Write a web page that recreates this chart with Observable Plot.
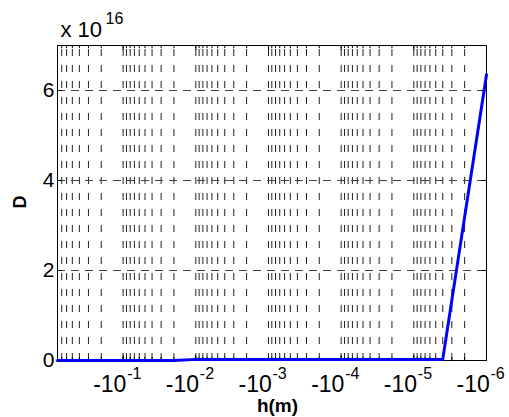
<!DOCTYPE html>
<html><head><meta charset="utf-8">
<script src="https://cdn.jsdelivr.net/npm/d3@7"></script>
<script src="https://cdn.jsdelivr.net/npm/@observablehq/plot@0.6"></script>
<style>
body{margin:0;background:#fff;}
svg{display:block;font-family:"Liberation Sans",Arial,sans-serif;}
</style>
</head><body><div id="chart"></div>
<script>
// ---- data ----
const hValues = [-0.8, -0.1, -0.02, -0.01, -1e-3, -1e-4, -1e-5, -4e-6, -1e-6];
const dValues = [0, 0, 0, 2.5e14, 2.5e14, 2.5e14, 2.5e14, 2.5e14, 6.35e16];
const xTickExponents = [-1, -2, -3, -4, -5, -6];
const yTickValues = [0, 2e16, 4e16, 6e16];
const yTickLabels = ["0", "2", "4", "6"];
const xDomain = [-0.8, -1e-6];
const yDomain = [0, 7e16];
const multiplierBase = "x 10";
const multiplierExp = "16";
const xLabel = "h(m)";
const yLabel = "D";

// ---- derived ----
const data = hValues.map((h, i) => ({h, D: dValues[i]}));
const majorX = xTickExponents.map(e => -Math.pow(10, e));
const minorX = [];
for (let e = 0; e >= -6; e--) {
  for (let m = 1; m <= 9; m++) {
    const v = m * Math.pow(10, e);
    if (v <= 0.8 * (1 + 1e-9) && v >= 1e-6 * (1 - 1e-9)) minorX.push(-v);
  }
}
const W = 509, H = 417, mL = 57, mR = 23, mT = 45, mB = 57;
const plotH = H - mT - mB, plotW = W - mL - mR;
const decades = Math.log10(xDomain[0] / xDomain[1]);
const pxPerDecade = plotW / decades;
const yLen = px => px / plotH * (yDomain[1] - yDomain[0]);
const xFactor = px => Math.pow(10, -px / pxPerDecade);

const chart = Plot.plot({
  width: W, height: H,
  marginLeft: mL, marginRight: mR, marginTop: mT, marginBottom: mB,
  x: {type: "log", domain: xDomain, axis: null},
  y: {domain: yDomain, axis: null},
  style: {background: "#fff", fontFamily: "'Liberation Sans', Arial, sans-serif", color: "#000"},
  marks: [
    // vertical grid (minor + major)
    Plot.ruleX(minorX, {x: d => d, y1: yDomain[0], y2: yDomain[1], stroke: "#222", strokeWidth: 1, strokeDasharray: "7,9"}),
    // horizontal grid
    Plot.ruleY(yTickValues.slice(1), {y: d => d, x1: xDomain[0], x2: xDomain[1], stroke: "#444", strokeWidth: 1, strokeDasharray: "8,6"}),
    // x ticks bottom & top
    Plot.ruleX(minorX, {x: d => d, y1: yDomain[0], y2: yDomain[0] + yLen(3), stroke: "#000"}),
    Plot.ruleX(minorX, {x: d => d, y1: yDomain[1], y2: yDomain[1] - yLen(3), stroke: "#000"}),
    Plot.ruleX(majorX, {x: d => d, y1: yDomain[0], y2: yDomain[0] + yLen(5), stroke: "#000"}),
    Plot.ruleX(majorX, {x: d => d, y1: yDomain[1], y2: yDomain[1] - yLen(5), stroke: "#000"}),
    // y ticks left & right
    Plot.ruleY(yTickValues, {y: d => d, x1: xDomain[0], x2: xDomain[0] * xFactor(5), stroke: "#000"}),
    Plot.ruleY(yTickValues, {y: d => d, x1: xDomain[1], x2: xDomain[1] / xFactor(5), stroke: "#000"}),
    Plot.frame({stroke: "#000"}),
    // x tick labels
    Plot.text(majorX, {x: d => d, frameAnchor: "bottom", text: () => "-10", textAnchor: "start", lineAnchor: "bottom", dx: -30, dy: 31.5, fontSize: 23}),
    Plot.text(xTickExponents, {x: e => -Math.pow(10, e), frameAnchor: "bottom", text: e => String(e), textAnchor: "start", lineAnchor: "bottom", dx: 4, dy: 18.5, fontSize: 16}),
    // y tick labels
    Plot.text(yTickValues, {y: d => d, frameAnchor: "left", text: (d, i) => yTickLabels[i], textAnchor: "end", lineAnchor: "middle", dx: -3, fontSize: 21}),
    // multiplier
    Plot.text([multiplierBase], {frameAnchor: "top-left", text: d => d, textAnchor: "start", lineAnchor: "bottom", dx: 3, dy: -8.5, fontSize: 22}),
    Plot.text([multiplierExp], {frameAnchor: "top-left", text: d => d, textAnchor: "start", lineAnchor: "bottom", dx: 48, dy: -21.5, fontSize: 16}),
    // axis labels
    Plot.text([xLabel], {frameAnchor: "bottom", text: d => d, textAnchor: "middle", lineAnchor: "bottom", dx: 5.5, dy: 51.5, fontSize: 19, fontWeight: "bold"}),
    Plot.text([yLabel], {frameAnchor: "left", text: d => d, textAnchor: "middle", lineAnchor: "middle", rotate: -90, dx: -37, dy: -1, fontSize: 18, fontWeight: "bold"}),
    // data line
    Plot.line(data, {x: "h", y: "D", stroke: "#0000ff", strokeWidth: 3})
  ]
});
document.getElementById("chart").appendChild(chart);
</script>
</body></html>
